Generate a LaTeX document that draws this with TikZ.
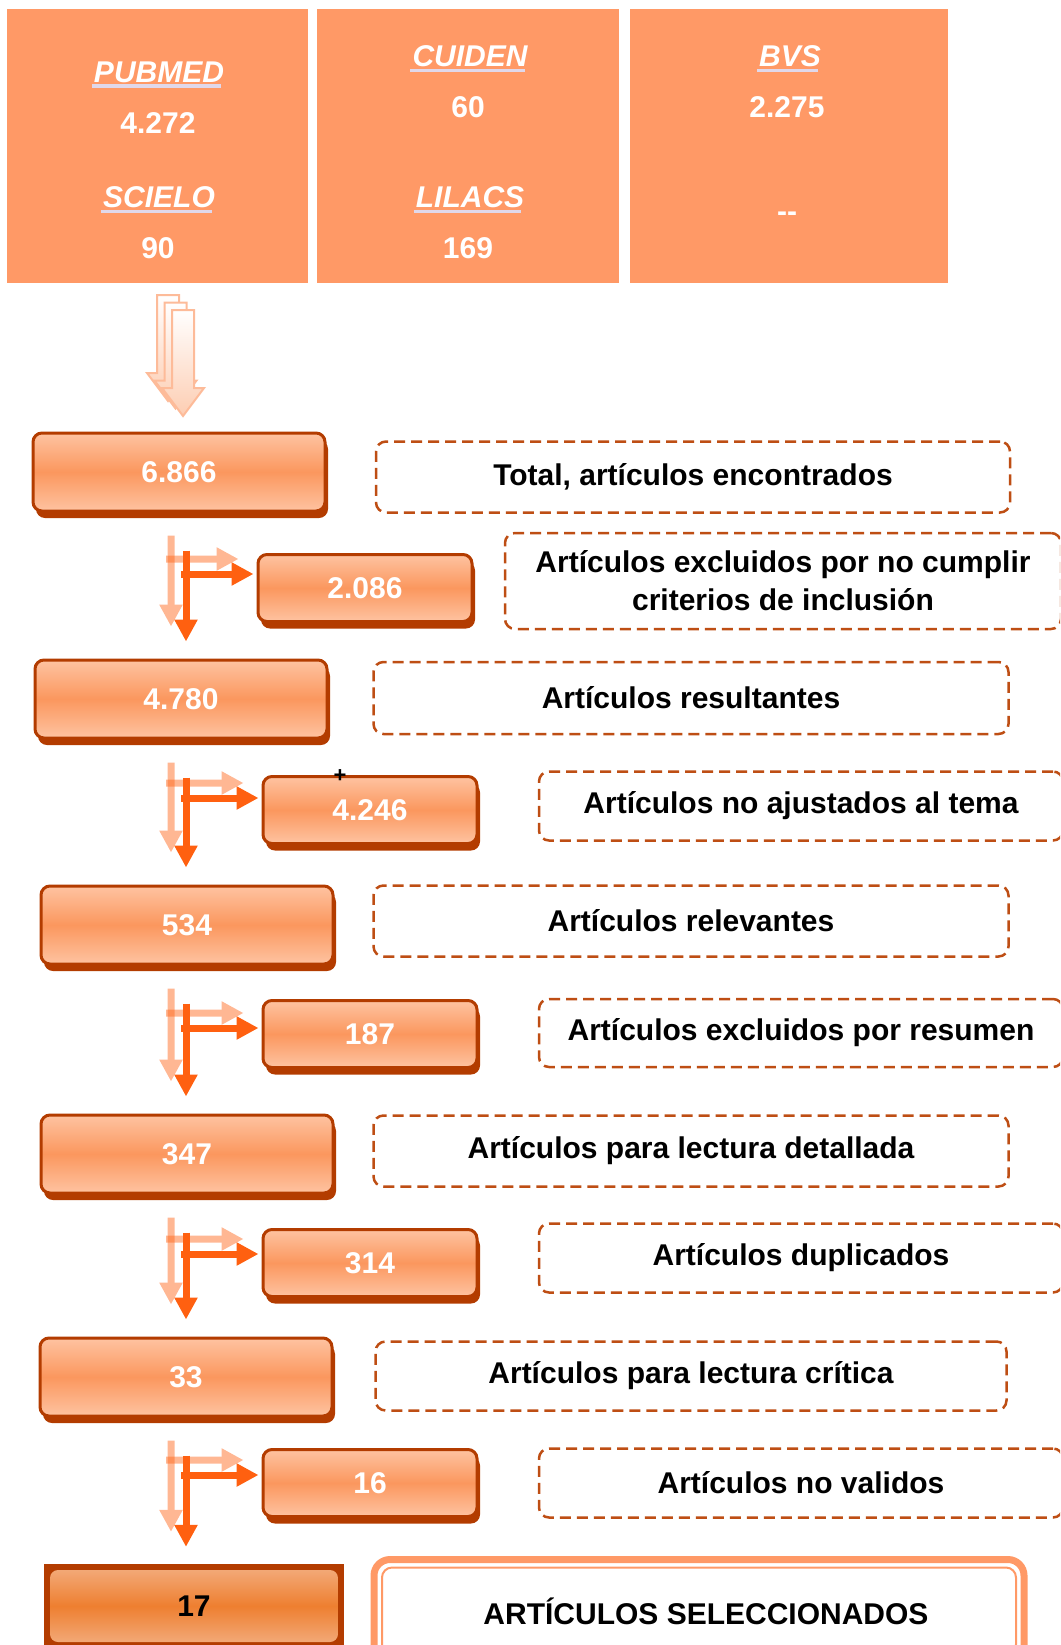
\documentclass[tikz,border=0pt]{standalone}
\usepackage{fontspec}
\setmainfont{Liberation Sans}
\usetikzlibrary{arrows.meta,shadows,calc}

\definecolor{srcfill}{HTML}{FF9966}
\definecolor{boxedge}{HTML}{B33C00}
\definecolor{boxlight}{HTML}{FEC3A1}
\definecolor{boxmid}{HTML}{FB975E}
\definecolor{finlight}{HTML}{F3AF82}
\definecolor{finmid}{HTML}{EE7F30}
\definecolor{dashline}{HTML}{BE4E14}
\definecolor{flowline}{HTML}{FF6010}
\definecolor{dbline}{HTML}{E0D8EA}
\definecolor{bigarrowline}{HTML}{FDBB99}
\definecolor{bigarrowfill}{HTML}{FDCDB2}

\tikzset{
  bigtext/.style={font=\bfseries\fontsize{30}{38}\selectfont},
  srcbox/.style={rectangle, fill=srcfill, inner sep=0pt},
  dbname/.style={font=\bfseries\itshape\fontsize{30}{38}\selectfont, text=white, inner sep=0pt},
  dbnum/.style={bigtext, text=white, inner sep=0pt},
  numbox/.style={bigtext, rectangle, rounded corners=9pt, draw=boxedge, line width=3pt,
    top color=boxlight, bottom color=boxlight, middle color=boxmid, text=white,
    drop shadow={shadow xshift=3pt, shadow yshift=-7pt, opacity=1, fill=boxedge}},
  bignum/.style={numbox, minimum width=292pt, minimum height=78pt},
  sidenum/.style={numbox, minimum width=214pt, minimum height=67pt},
  finalbox/.style={bigtext, rectangle, fill=boxedge, minimum width=300pt, minimum height=84pt, text=black,
    path picture={\shade[rounded corners=8pt, top color=finlight, bottom color=finlight, middle color=finmid]
      ($(path picture bounding box.north west)+(6pt,-6pt)$) rectangle ($(path picture bounding box.south east)+(-6pt,6pt)$);}},
  labelbox/.style={bigtext, rectangle, rounded corners=10pt, draw=dashline, line width=2.5pt,
    dash pattern=on 11pt off 6pt, fill=white, align=center},
  selbox/.style={bigtext, rectangle, rounded corners=16pt, draw=srcfill, line width=7pt, fill=white,
    minimum width=650pt, minimum height=103pt,
    path picture={\draw[srcfill, line width=2pt, rounded corners=10pt]
      ($(path picture bounding box.north west)+(8pt,-8pt)$) rectangle ($(path picture bounding box.south east)+(-8pt,8pt)$);}},
  flowarrow/.style={draw=flowline, line width=7pt, -{Triangle[width=22pt,length=22pt]}},
  ghost/.style={transform canvas={shift={(-15pt,15pt)}}, transparency group, opacity=0.45},
  bigarrow/.style={draw=bigarrowline, line width=2pt, top color=white, bottom color=bigarrowfill}
}

\begin{document}
\begin{tikzpicture}[x=1pt,y=-1pt]
  \useasboundingbox (0,0) rectangle (1060,1645);
  \clip (0,0) rectangle (1060,1645);

  % bases de datos
  \node[srcbox, minimum width=301pt, minimum height=274pt] (srcA) at (157.5,146) {};
  \node[srcbox, minimum width=302pt, minimum height=274pt] (srcB) at (468,146) {};
  \node[srcbox, minimum width=318pt, minimum height=274pt] (srcC) at (789,146) {};

  \node[dbname] (pubmed) at (159,72) {PUBMED};
  \node[dbnum] (numpubmed) at (158,123) {4.272};
  \node[dbname] (scielo) at (159,197) {SCIELO};
  \node[dbnum] (numscielo) at (158,248) {90};
  \node[dbname] (cuiden) at (470,56) {CUIDEN};
  \node[dbnum] (numcuiden) at (468,107) {60};
  \node[dbname] (lilacs) at (470,197) {LILACS};
  \node[dbnum] (numlilacs) at (468,248) {169};
  \node[dbname] (bvs) at (790,56) {BVS};
  \node[dbnum] (numbvs) at (787,107) {2.275};
  \node[dbnum] (nobvs) at (787,217) {-{}-};

  \foreach \db in {pubmed,scielo,cuiden,lilacs,bvs}
    \draw[dbline, line width=3.5pt] ([xshift=-2pt,yshift=-4pt]\db.base west) -- ([xshift=-3pt,yshift=-4pt]\db.base east);

  % flecha grande
  \foreach \d in {-15,-7.5,0}
    \draw[bigarrow, shift={(\d,\d)}] (172,310) -- (194,310) -- (194,388) -- (204,388)
      -- (183,416) -- (162,388) -- (172,388) -- cycle;

  % cajas de resultados
  \node[bignum] (n6866) at (179,472) {6.866};
  \node[sidenum] (n2086) at (365,588) {2.086};
  \node[bignum] (n4780) at (181,699) {4.780};
  \node[sidenum] (n4246) at (370,810) {4.246};
  \node[bignum] (n534) at (187,925) {534};
  \node[sidenum] (n187) at (370,1034) {187};
  \node[bignum] (n347) at (187,1154) {347};
  \node[sidenum] (n314) at (370,1263) {314};
  \node[bignum] (n33) at (186,1377) {33};
  \node[sidenum] (n16) at (370,1483) {16};
  \node[finalbox] (n17) at (194,1606) {17};

  \node[font=\bfseries\fontsize{22}{22}\selectfont, inner sep=0pt] (cursor) at (340,776) {+};

  % descripciones
  \node[labelbox, minimum width=634pt, minimum height=71pt] (lTotal) at (693,477) {Total, artículos encontrados};
  \node[labelbox, minimum width=556pt, minimum height=96pt] (lExcl) at (783,581) {Artículos excluidos por no cumplir\\criterios de inclusión};
  \node[labelbox, minimum width=635pt, minimum height=72pt] (lResult) at (691,698) {Artículos resultantes};
  \node[labelbox, minimum width=524pt, minimum height=69pt] (lAjust) at (801,806) {Artículos no ajustados al tema};
  \node[labelbox, minimum width=635pt, minimum height=71pt] (lRelev) at (691,921) {Artículos relevantes};
  \node[labelbox, minimum width=524pt, minimum height=68pt] (lResum) at (801,1033) {Artículos excluidos por resumen};
  \node[labelbox, minimum width=635pt, minimum height=71pt] (lDetall) at (691,1151) {Artículos para lectura detallada};
  \node[labelbox, minimum width=524pt, minimum height=69pt] (lDupl) at (801,1258) {Artículos duplicados};
  \node[labelbox, minimum width=631pt, minimum height=69pt] (lCrit) at (691,1376) {Artículos para lectura crítica};
  \node[labelbox, minimum width=524pt, minimum height=69pt] (lValid) at (801,1483) {Artículos no validos};
  \node[selbox] (lSelec) at (699,1611) {\hspace{14pt}ARTÍCULOS SELECCIONADOS};

  % flechas entre pasos
  \coordinate (spine) at (186,0);
  \foreach \pa/\pb/\pc/\dy in {n6866/n2086/n4780/14pt, n4780/n4246/n534/12pt,
      n534/n187/n347/6pt, n347/n314/n33/9pt, n33/n16/n17/8pt}{
    \begin{scope}[ghost]
      \draw[flowarrow, shorten <=38pt, shorten >=17pt] (\pa.south -| spine) -- (\pc.north -| spine);
    \end{scope}
    \begin{scope}[ghost]
      \draw[flowarrow, shorten >=3pt] ($(\pb.west -| spine)+(-5pt,\dy)$) -- ($(\pb.west)+(0pt,\dy)$);
    \end{scope}
    \draw[flowarrow, shorten <=38pt, shorten >=17pt] (\pa.south -| spine) -- (\pc.north -| spine);
    \draw[flowarrow, shorten >=3pt] ($(\pb.west -| spine)+(-5pt,\dy)$) -- ($(\pb.west)+(0pt,\dy)$);
  }
\end{tikzpicture}
\end{document}
